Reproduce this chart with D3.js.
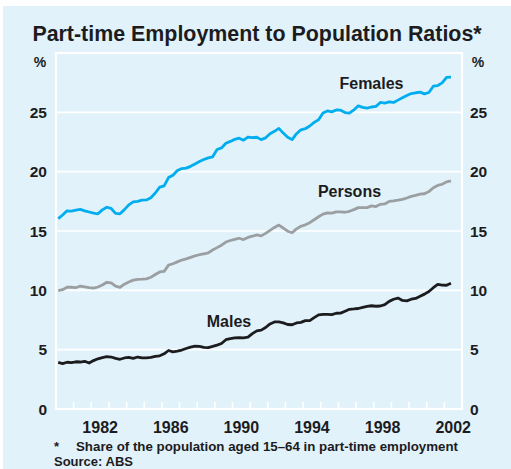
<!DOCTYPE html>
<html>
<head>
<meta charset="utf-8">
<script src="https://cdn.jsdelivr.net/npm/d3@7/dist/d3.min.js"></script>
<style>
  body { margin: 0; background: #fff; }
  text { font-family: Arial, "Liberation Sans", Helvetica, sans-serif; font-weight: bold; fill: #1c1c1e; }
</style>
</head>
<body>
<div id="chart"></div>
<script>
// quarterly observations, Feb 1980 .. May 2002
var quarters = d3.range(90).map(function(i) { return 1980.125 + i * 0.25 })

var females = [16.05,16.35,16.7,16.67,16.75,16.82,16.7,16.6,16.5,16.45,16.78,17.0,16.9,16.48,16.45,16.8,
  17.2,17.45,17.5,17.6,17.62,17.8,18.2,18.7,18.8,19.5,19.7,20.1,20.26,20.3,20.45,20.65,20.85,21.02,21.16,21.25,
  21.87,22.0,22.4,22.55,22.72,22.82,22.65,22.92,22.87,22.9,22.7,22.85,23.2,23.4,23.65,23.25,22.9,22.7,23.2,23.53,
  23.62,23.85,24.15,24.38,24.95,25.12,25.04,25.2,25.18,24.98,24.93,25.2,25.55,25.42,25.36,25.45,25.5,25.83,25.78,25.88,
  25.83,26.03,26.22,26.42,26.58,26.65,26.7,26.56,26.67,27.2,27.26,27.48,27.95,27.96]

var persons = [9.98,10.05,10.26,10.26,10.22,10.36,10.3,10.22,10.18,10.28,10.45,10.68,10.62,10.35,10.25,10.52,
  10.7,10.86,10.93,10.94,10.97,11.1,11.33,11.55,11.6,12.12,12.24,12.4,12.55,12.65,12.78,12.9,13.0,13.08,13.15,13.4,
  13.6,13.8,14.07,14.2,14.3,14.39,14.28,14.46,14.56,14.68,14.59,14.8,15.05,15.3,15.5,15.25,14.98,14.85,15.18,15.4,
  15.52,15.7,15.95,16.2,16.42,16.53,16.5,16.61,16.61,16.58,16.66,16.8,16.97,16.97,16.97,17.12,17.06,17.25,17.28,17.5,
  17.54,17.6,17.67,17.78,17.92,18.0,18.1,18.14,18.32,18.65,18.84,18.94,19.14,19.22]

var males = [3.92,3.83,3.94,3.91,3.98,3.96,4.02,3.87,4.08,4.23,4.33,4.41,4.38,4.26,4.19,4.3,
  4.35,4.27,4.38,4.3,4.3,4.35,4.44,4.48,4.65,4.93,4.82,4.88,4.97,5.1,5.22,5.29,5.28,5.2,5.17,5.27,
  5.38,5.52,5.84,5.93,5.99,6.01,6.0,6.05,6.35,6.58,6.65,6.87,7.17,7.34,7.35,7.26,7.12,7.1,7.25,7.3,
  7.45,7.45,7.7,7.93,7.98,7.97,7.95,8.07,8.08,8.24,8.4,8.43,8.47,8.57,8.65,8.7,8.66,8.68,8.8,9.07,
  9.25,9.35,9.15,9.11,9.25,9.32,9.5,9.68,9.9,10.22,10.5,10.44,10.43,10.6]

var yTicks = [0, 5, 10, 15, 20, 25]
var xLabels = [1982, 1986, 1990, 1994, 1998, 2002]
var yearTicks = d3.range(1981, 2003)

var width = 511
var height = 469
var margin = {top: 53, right: 49, bottom: 60, left: 56}

var svg = d3.select("#chart")
	.append("svg")
	.attr("width", width)
	.attr("height", height)

// panel background
svg.append("rect")
	.attr("x", 3).attr("y", 6)
	.attr("width", width - 3).attr("height", height - 6)
	.style("fill", "#e1f2fa")

var x = d3.scaleLinear()
	.domain([1980, 2003])
	.range([margin.left, width - margin.right])

var y = d3.scaleLinear()
	.domain([0, 30])
	.range([height - margin.bottom, margin.top])

// gridlines
svg.selectAll(".grid")
	.data(yTicks.slice(1))
	.enter()
	.append("line")
	.attr("x1", x(1980)).attr("x2", x(2003))
	.attr("y1", function(d) { return y(d) })
	.attr("y2", function(d) { return y(d) })
	.style("stroke", "#fff")
	.style("stroke-width", 1.6)

// year ticks along the bottom
svg.selectAll(".ytick")
	.data(yearTicks)
	.enter()
	.append("line")
	.attr("x1", function(d) { return x(d) })
	.attr("x2", function(d) { return x(d) })
	.attr("y1", y(0))
	.attr("y2", y(0) - 7)
	.style("stroke", "#fff")
	.style("stroke-width", 1.6)

// plot frame
svg.append("rect")
	.attr("x", x(1980)).attr("y", y(30))
	.attr("width", x(2003) - x(1980))
	.attr("height", y(0) - y(30))
	.style("fill", "none")
	.style("stroke", "#fff")
	.style("stroke-width", 2.2)

var line = d3.line()
	.x(function(d, i) { return x(quarters[i]) })
	.y(function(d) { return y(d) })

var series = [
	{name: "Females", values: females, color: "#00aeef", lx: 371.5, lv: 27.0},
	{name: "Persons", values: persons, color: "#9b9fa2", lx: 349.5, lv: 17.9},
	{name: "Males", values: males, color: "#1c1c1e", lx: 229, lv: 6.95}
]

series.forEach(function(s) {
	svg.append("path")
		.datum(s.values)
		.attr("d", line)
		.style("fill", "none")
		.style("stroke", s.color)
		.style("stroke-width", 2.8)
		.style("stroke-linejoin", "round")

	svg.append("text")
		.attr("x", s.lx)
		.attr("y", y(s.lv))
		.attr("text-anchor", "middle")
		.style("font-size", "16px")
		.text(s.name)
})

// y labels both sides
svg.selectAll(".yl")
	.data(yTicks)
	.enter()
	.append("text")
	.attr("x", margin.left - 9)
	.attr("y", function(d) { return y(d) + 5.5 })
	.attr("text-anchor", "end")
	.style("font-size", "15.5px")
	.text(function(d) { return d })

svg.selectAll(".yr")
	.data(yTicks)
	.enter()
	.append("text")
	.attr("x", width - margin.right + 8)
	.attr("y", function(d) { return y(d) + 5.5 })
	.attr("text-anchor", "start")
	.style("font-size", "15.5px")
	.text(function(d) { return d })

svg.append("text").attr("x", 40).attr("y", 67).attr("text-anchor", "middle")
	.style("font-size", "14px").text("%")
svg.append("text").attr("x", 478).attr("y", 67).attr("text-anchor", "middle")
	.style("font-size", "14px").text("%")

// x labels, centred in the year
svg.selectAll(".xl")
	.data(xLabels)
	.enter()
	.append("text")
	.attr("x", function(d) { return x(d + 0.5) })
	.attr("y", 433)
	.attr("text-anchor", "middle")
	.style("font-size", "16px")
	.text(function(d) { return d })

// title
svg.append("text")
	.attr("x", 257)
	.attr("y", 41)
	.attr("text-anchor", "middle")
	.style("font-size", "21.4px")
	.text("Part-time Employment to Population Ratios*")

// footnotes
svg.append("text").attr("x", 54).attr("y", 451).style("font-size", "13px").text("*")
svg.append("text").attr("x", 76).attr("y", 451).style("font-size", "13.3px")
	.text("Share of the population aged 15\u201364 in part-time employment")
svg.append("text").attr("x", 54).attr("y", 466).style("font-size", "13px").text("Source: ABS")
</script>
</body>
</html>
